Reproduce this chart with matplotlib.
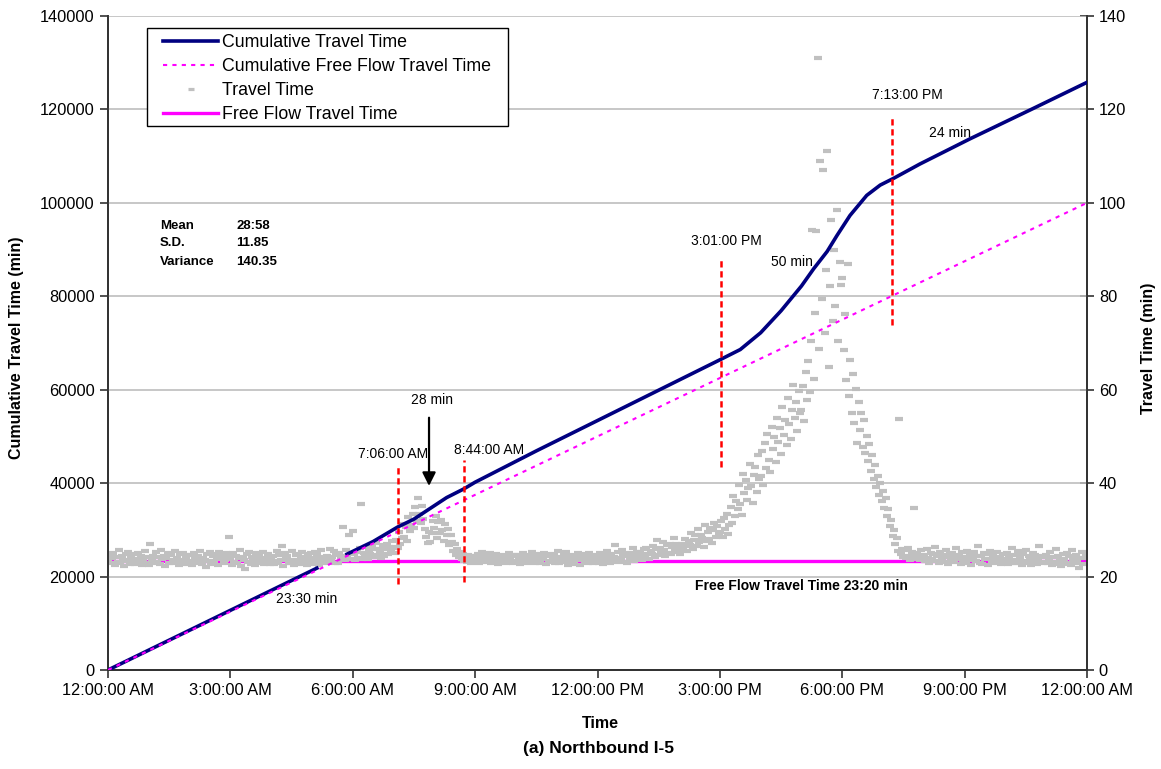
import numpy as np
import matplotlib
matplotlib.use("Agg")
import matplotlib.pyplot as plt
from matplotlib.lines import Line2D
from matplotlib.patches import Rectangle

plt.rcParams['font.family'] = ['Liberation Sans', 'DejaVu Sans']

# travel time readings (min), one every 2 minutes, one row per hour
travel_rows = [
    [23.4, 24.6, 22.8, 23.9, 25.1, 22.5, 24.2, 23.1, 25.6, 22.9, 24.4, 23.6, 22.2, 24.9, 23.3, 25.3, 22.7, 24.0, 23.5, 24.8, 22.6, 23.8, 25.0, 23.2, 24.5, 22.4, 23.7, 25.4, 23.0, 24.1],
    [22.4, 26.9, 23.8, 24.5, 22.9, 25.2, 23.2, 24.1, 22.6, 25.7, 23.7, 24.3, 22.3, 23.9, 25.0, 23.0, 24.7, 22.8, 23.6, 25.4, 23.3, 24.0, 22.5, 24.8, 23.5, 25.1, 22.7, 24.2, 23.4, 24.6],
    [23.1, 24.6, 22.5, 25.1, 23.8, 22.9, 24.4, 23.3, 25.5, 22.7, 24.0, 23.5, 22.1, 24.8, 23.4, 25.2, 22.6, 24.3, 23.0, 24.9, 23.7, 22.4, 25.3, 23.9, 24.5, 22.8, 23.6, 25.0, 24.2, 28.4],
    [23.7, 22.4, 25.0, 23.2, 24.5, 22.8, 23.9, 25.6, 22.3, 24.2, 23.6, 21.6, 24.9, 23.1, 25.3, 22.7, 24.1, 23.4, 22.5, 25.1, 23.8, 24.6, 22.9, 23.5, 25.2, 22.6, 24.0, 23.3, 24.8, 22.7],
    [23.8, 24.4, 22.6, 23.3, 25.4, 22.9, 24.7, 23.5, 26.5, 22.2, 25.0, 23.7, 24.3, 22.8, 23.0, 25.5, 23.6, 22.4, 24.6, 23.2, 24.9, 22.7, 23.9, 25.3, 23.1, 24.2, 22.5, 24.8, 23.4, 25.0],
    [24.0, 22.7, 25.2, 23.4, 24.8, 22.5, 23.9, 25.7, 23.1, 24.2, 22.9, 24.5, 23.6, 25.9, 23.3, 24.1, 25.4, 23.0, 24.7, 22.8, 25.1, 23.7, 24.4, 30.7, 23.5, 25.6, 24.3, 28.9, 23.8, 25.0],
    [29.7, 24.9, 23.5, 25.3, 24.0, 26.1, 35.5, 23.8, 25.0, 24.4, 26.3, 23.7, 25.6, 24.8, 26.5, 24.2, 25.9, 27.2, 24.6, 26.0, 25.3, 23.9, 26.7, 24.5, 25.8, 27.0, 24.9, 26.4, 25.5, 27.6],
    [26.4, 25.1, 27.8, 26.2, 29.5, 27.0, 28.3, 31.2, 28.4, 30.6, 27.6, 32.8, 29.8, 31.0, 33.5, 30.4, 34.8, 32.0, 36.9, 33.4, 31.5, 35.2, 32.4, 30.1, 28.5, 27.1, 29.6, 27.4, 29.3, 31.8],
    [30.5, 33.0, 28.2, 31.6, 29.4, 32.2, 30.0, 27.6, 31.2, 28.9, 30.1, 26.8, 28.9, 27.5, 25.4, 26.9, 24.6, 25.8, 24.1, 25.2, 23.7, 24.9, 23.4, 24.5, 23.2, 24.7, 23.6, 22.9, 24.3, 23.8],
    [24.3, 23.6, 24.8, 22.9, 24.0, 25.2, 23.5, 24.6, 23.1, 24.4, 23.8, 25.0, 22.8, 24.2, 23.4, 24.9, 23.7, 22.6, 24.5, 23.9, 23.2, 24.7, 23.5, 22.9, 24.1, 25.1, 23.6, 24.4, 23.0, 24.6],
    [23.3, 24.7, 23.9, 22.7, 24.1, 25.1, 23.6, 24.4, 22.9, 23.8, 24.6, 23.2, 25.3, 24.0, 22.8, 24.3, 23.5, 24.8, 23.0, 24.2, 23.7, 25.0, 22.6, 24.5, 23.4, 24.9, 23.1, 23.9, 24.6, 22.8],
    [23.7, 25.4, 22.9, 24.1, 23.4, 24.8, 23.1, 25.2, 22.5, 23.9, 24.5, 23.3, 24.7, 22.7, 24.0, 23.6, 25.0, 22.4, 24.3, 23.8, 24.9, 23.2, 24.4, 22.8, 25.1, 23.5, 24.2, 23.0, 24.6, 23.7],
    [24.4, 23.0, 25.1, 23.7, 22.6, 24.6, 23.4, 25.5, 23.9, 22.8, 24.9, 23.5, 24.2, 26.8, 23.1, 25.3, 24.0, 23.6, 25.7, 24.5, 23.2, 24.8, 22.9, 25.0, 23.8, 24.3, 26.1, 23.4, 24.7, 25.2],
    [23.9, 25.2, 24.6, 23.5, 25.8, 24.3, 26.2, 24.8, 23.8, 25.5, 24.9, 26.6, 24.2, 25.9, 27.8, 24.7, 26.1, 25.3, 27.4, 25.6, 24.5, 26.8, 25.1, 27.0, 24.9, 26.4, 28.3, 25.7, 26.9, 25.2],
    [26.3, 24.9, 27.0, 25.7, 28.1, 26.5, 25.4, 27.6, 26.8, 29.4, 26.0, 27.9, 28.8, 26.6, 30.2, 27.3, 29.0, 28.2, 26.4, 31.0, 27.7, 29.6, 28.0, 30.5, 27.2, 29.9, 31.4, 28.5, 30.8, 29.1],
    [29.5, 31.8, 28.4, 32.6, 30.1, 33.4, 29.2, 31.0, 35.0, 31.5, 37.2, 33.0, 36.1, 34.4, 39.5, 35.6, 33.2, 42.0, 37.8, 40.6, 36.3, 38.9, 44.2, 39.4, 35.8, 41.7, 43.5, 38.2, 46.0, 40.8],
    [41.5, 46.8, 39.7, 48.5, 43.2, 50.6, 45.0, 42.3, 52.1, 47.4, 49.8, 44.6, 54.0, 48.9, 51.7, 46.2, 56.3, 50.4, 53.5, 48.1, 58.2, 52.7, 49.4, 55.6, 61.0, 53.9, 57.4, 51.2, 59.8, 55.0],
    [55.6, 60.8, 53.4, 63.7, 57.9, 66.2, 59.6, 70.4, 94.2, 62.3, 76.5, 94.0, 131.0, 68.8, 109.0, 79.4, 107.0, 72.1, 85.6, 111.0, 64.9, 82.2, 96.3, 74.8, 90.0, 78.0, 98.5, 70.5, 87.3, 82.4],
    [84.0, 68.5, 76.2, 62.0, 86.9, 58.7, 66.4, 55.1, 63.3, 52.9, 60.2, 48.6, 57.4, 51.3, 55.0, 47.8, 53.6, 46.4, 50.1, 44.7, 48.3, 42.5, 46.0, 40.8, 43.9, 39.2, 41.6, 37.5, 40.0, 36.2],
    [38.4, 34.6, 36.8, 32.9, 34.5, 30.8, 32.1, 28.7, 30.0, 26.9, 28.2, 25.4, 53.8, 24.8, 25.9, 24.2, 25.6, 23.9, 26.2, 24.5, 23.6, 25.3, 24.1, 34.6, 23.8, 25.0, 24.4, 23.5, 25.7, 24.0],
    [24.6, 23.3, 25.8, 24.0, 22.9, 25.1, 23.7, 24.8, 26.4, 23.4, 24.5, 22.8, 25.3, 23.9, 24.7, 23.1, 25.6, 24.2, 22.7, 24.9, 23.6, 25.0, 23.2, 24.4, 26.1, 23.8, 24.6, 22.6, 25.2, 23.5],
    [24.1, 22.8, 25.4, 23.6, 24.7, 22.5, 23.9, 25.2, 23.3, 24.5, 26.6, 23.0, 24.3, 22.7, 25.0, 23.7, 24.8, 22.4, 23.8, 25.5, 23.2, 24.6, 22.9, 24.0, 25.3, 23.4, 24.2, 22.6, 24.9, 23.1],
    [23.8, 25.1, 22.7, 24.4, 23.5, 26.2, 23.0, 24.7, 22.8, 25.4, 23.6, 24.1, 22.5, 24.9, 23.3, 25.7, 22.9, 24.3, 23.7, 22.4, 25.0, 23.4, 24.6, 22.6, 23.9, 26.5, 23.1, 24.5, 22.8, 24.2],
    [24.7, 22.9, 23.6, 25.3, 22.5, 24.1, 23.2, 25.8, 22.7, 24.4, 23.5, 22.3, 24.9, 23.8, 22.6, 25.1, 23.0, 24.3, 22.4, 25.6, 23.7, 22.8, 24.6, 23.3, 21.9, 24.0, 25.2, 22.6, 23.9, 24.5],
]
travel_time = np.concatenate(travel_rows)
travel_hours = np.arange(len(travel_time)) * 2 / 60.0

# cumulative travel time (left axis), two recorded pieces
cum_hours_a = [0.0, 5.12]
cum_vals_a = [0, 21800]
cum_hours_b = [5.86, 6.5, 7.1, 7.5, 7.9, 8.3, 8.73, 9.0, 10.5, 12.0, 13.5, 15.0, 15.5, 16.0,
               16.5, 17.0, 17.3, 17.63, 17.87, 18.19, 18.6, 18.93, 19.27, 19.9, 21.13, 22.68, 24.0]
cum_vals_b = [24800, 27500, 30600, 32300, 34600, 36900, 38800, 40200, 46900, 53400, 59900, 66400,
              68600, 72200, 76900, 82200, 85900, 89600, 93000, 97300, 101600, 103800, 105300,
              108300, 113700, 120200, 125800]
free_cum_hours = [0, 24]
free_cum_vals = [0, 100000]
free_flow_tt = 23.33

# marked times (h) and the span of each red marker line (left-axis units)
mark_hours = [7.1, 8.733, 15.017, 19.217]
mark_labels = ['7:06:00 AM', '8:44:00 AM', '3:01:00 PM', '7:13:00 PM']
mark_lo = [18400, 18800, 43500, 73900]
mark_hi = [43500, 45000, 88400, 118800]
mark_text_pos = [(6.99, 46300), (9.34, 47100), (15.15, 91900), (19.59, 123100)]

tick_hours = [0, 3, 6, 9, 12, 15, 18, 21, 24]
tick_labels = ['12:00:00 AM', '3:00:00 AM', '6:00:00 AM', '9:00:00 AM', '12:00:00 PM',
               '3:00:00 PM', '6:00:00 PM', '9:00:00 PM', '12:00:00 AM']

fig = plt.figure(figsize=(11.61, 7.69), dpi=100)
ax = fig.add_axes([108 / 1161, 1 - 670 / 769, 979 / 1161, 654 / 769])
ax2 = ax.twinx()
ax.set_zorder(ax2.get_zorder() + 1)
ax.patch.set_visible(False)

# right axis: travel times
ax2.plot([0, 24], [free_flow_tt, free_flow_tt], color='#FF00FF', lw=2.4, zorder=1)
ax2.plot(travel_hours, travel_time, ls='none', marker='_', ms=5.5, mew=3.0,
         color='#C0C0C0', zorder=2)
ax2.set_ylim(0, 140)
ax2.set_yticks(range(0, 141, 20))

# left axis: cumulative
for y in range(20000, 140001, 20000):
    ax.axhline(y, color='#BDBDBD', lw=1.2, zorder=0)
ax.plot(cum_hours_a, cum_vals_a, color='#000080', lw=2.6, zorder=3)
ax.plot(cum_hours_b, cum_vals_b, color='#000080', lw=2.6, zorder=3)
ax.plot(free_cum_hours, free_cum_vals, color='#FF00FF', lw=1.5, ls=(0, (2, 2.5)), zorder=4)

for h, lo, hi, lab, (tx, ty) in zip(mark_hours, mark_lo, mark_hi, mark_labels, mark_text_pos):
    ax.plot([h, h], [lo, hi], color='#FF0000', lw=1.8, ls=(0, (2.5, 1.5)), zorder=5)
    ax.text(tx, ty, lab, ha='center', va='center', fontsize=10)

ax.annotate('', xy=(7.87, 38800), xytext=(7.87, 54600),
            arrowprops=dict(arrowstyle='-|>', color='black', lw=1.6, mutation_scale=20))
ax.text(7.95, 57800, '28 min', ha='center', va='center', fontsize=10)
ax.text(16.77, 87400, '50 min', ha='center', va='center', fontsize=10)
ax.text(20.64, 115000, '24 min', ha='center', va='center', fontsize=10)
ax.text(4.86, 15200, '23:30 min', ha='center', va='center', fontsize=10)
ax.text(16.99, 18000, 'Free Flow Travel Time 23:20 min', ha='center', va='center',
        fontsize=10, fontweight='bold')

stats = [('Mean', '28:58', 95100), ('S.D.', '11.85', 91300), ('Variance', '140.35', 87400)]
for name, val, y in stats:
    ax.text(1.275, y, name, ha='left', va='center', fontsize=9.5, fontweight='bold')
    ax.text(3.14, y, val, ha='left', va='center', fontsize=9.5, fontweight='bold')

ax.set_xlim(0, 24)
ax.set_ylim(0, 140000)
ax.set_xticks(tick_hours)
ax.set_xticklabels(tick_labels)
ax.set_yticks(range(0, 140001, 20000))

for a in (ax, ax2):
    a.spines['top'].set_visible(False)
    for s in ('left', 'right', 'bottom'):
        a.spines[s].set_color('#333333')
        a.spines[s].set_linewidth(1.3)
ax.tick_params(axis='both', labelsize=11.8, direction='out', length=6, width=1.2, color='#333333')
ax2.tick_params(axis='y', labelsize=11.8, direction='inout', length=10, width=1.2, color='#333333')

handles = [
    Line2D([], [], color='#000080', lw=2.6),
    Line2D([], [], color='#FF00FF', lw=1.5, ls=(0, (2, 2.5))),
    Line2D([], [], ls='none', marker='_', ms=4.5, mew=2.3, color='#C0C0C0'),
    Line2D([], [], color='#FF00FF', lw=2.4),
]
labels = ['Cumulative Travel Time', 'Cumulative Free Flow Travel Time', 'Travel Time',
          'Free Flow Travel Time']
# legend box drawn separately so the entries get the wider left margin
ax.add_patch(Rectangle((39 / 979, 544 / 654), 361 / 979, 98 / 654, transform=ax.transAxes,
                       facecolor='white', edgecolor='black', lw=1.0, zorder=6))
leg = ax.legend(handles, labels, loc='upper left', bbox_to_anchor=(55 / 979, 636 / 654),
                borderaxespad=0, borderpad=0, fontsize=12.8, handlelength=3.1,
                handletextpad=0.2, labelspacing=0.4, frameon=False)
leg.set_zorder(7)

fig.text(17 / 1161, 1 - 348 / 769, 'Cumulative Travel Time (min)', rotation=90,
         ha='center', va='center', fontsize=11.5, fontweight='bold')
fig.text(1149 / 1161, 1 - 348 / 769, 'Travel Time (min)', rotation=90,
         ha='center', va='center', fontsize=11.5, fontweight='bold')
fig.text(600 / 1161, 1 - 724 / 769, 'Time', ha='center', va='center',
         fontsize=11.5, fontweight='bold')
fig.text(598 / 1161, 1 - 748 / 769, '(a) Northbound I-5', ha='center', va='center',
         fontsize=12.5, fontweight='bold')

fig.savefig('out.png', dpi=100)
